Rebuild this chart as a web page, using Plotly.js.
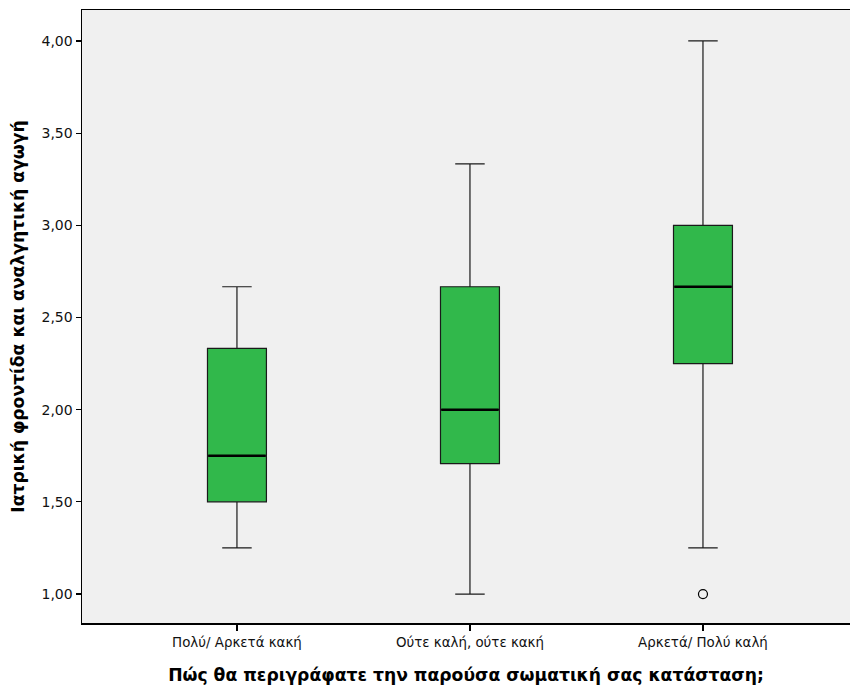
<!DOCTYPE html>
<html>
<head>
<meta charset="utf-8">
<script src="https://cdn.plot.ly/plotly-3.0.1.min.js"></script>
<style>html,body{margin:0;padding:0;background:#fff;}</style>
</head>
<body>
<div id="chart" style="width:850px;height:688px;"></div>
<script>
const categories = ["Πολύ/ Αρκετά κακή", "Ούτε καλή, ούτε κακή", "Αρκετά/ Πολύ καλή"];
const lowerWhisker = [1.25, 1.00, 1.25];
const q1Values = [1.50, 1.708, 2.25];
const medianValues = [1.75, 2.00, 2.667];
const q3Values = [2.333, 2.667, 3.00];
const upperWhisker = [2.667, 3.333, 4.00];
const outlierCategories = ["Αρκετά/ Πολύ καλή"];
const outlierValues = [1.00];
const yTickVals = [1.0, 1.5, 2.0, 2.5, 3.0, 3.5, 4.0];
const yTickText = ["1,00", "1,50", "2,00", "2,50", "3,00", "3,50", "4,00"];

const boxTrace = {
  type: "box",
  x: categories,
  q1: q1Values,
  median: medianValues,
  q3: q3Values,
  lowerfence: lowerWhisker,
  upperfence: upperWhisker,
  fillcolor: "#31B84B",
  line: {color: "#1a1a1a", width: 1.2},
  width: 0.253,
  whiskerwidth: 0.5,
  boxpoints: false,
  hoverinfo: "skip",
  showlegend: false
};
const medianTrace = {
  type: "box",
  x: categories,
  q1: medianValues,
  median: medianValues,
  q3: medianValues,
  lowerfence: medianValues,
  upperfence: medianValues,
  fillcolor: "rgba(0,0,0,0)",
  line: {color: "#000000", width: 2.6},
  width: 0.246,
  whiskerwidth: 0,
  boxpoints: false,
  hoverinfo: "skip",
  showlegend: false
};
const outlierTrace = {
  type: "scatter",
  mode: "markers",
  x: outlierCategories,
  y: outlierValues,
  marker: {symbol: "circle-open", size: 9, color: "#000000", line: {width: 1.2, color: "#000"}},
  hoverinfo: "skip",
  showlegend: false
};

const layout = {
  width: 850,
  height: 688,
  margin: {l: 82, r: 0, t: 10, b: 65},
  paper_bgcolor: "#ffffff",
  plot_bgcolor: "#F0F0F0",
  boxmode: "overlay",
  font: {family: "'DejaVu Sans', sans-serif", color: "#000"},
  xaxis: {
    type: "category",
    categoryorder: "array",
    categoryarray: categories,
    range: [-0.665, 2.631],
    showgrid: false,
    zeroline: false,
    showline: true,
    linecolor: "#000",
    linewidth: 1.5,
    mirror: true,
    ticks: "outside",
    ticklen: 6,
    tickwidth: 1.2,
    tickcolor: "#000",
    tickfont: {size: 13.4, color: "#111"},
    title: {text: "Πώς θα περιγράφατε την παρούσα σωματική σας κατάσταση;", font: {size: 17.2, color: "#000", weight: "bold"}, standoff: 20}
  },
  yaxis: {
    range: [0.843, 4.168],
    tickvals: yTickVals,
    ticktext: yTickText,
    showgrid: false,
    zeroline: false,
    showline: true,
    linecolor: "#000",
    linewidth: 1.5,
    ticks: "outside",
    ticklen: 5,
    tickwidth: 1.2,
    tickcolor: "#000",
    tickfont: {size: 14, color: "#111"},
    title: {text: "Ιατρική φροντίδα και αναλγητική αγωγή", font: {size: 17.2, color: "#000", weight: "bold"}, standoff: 12}
  }
};

Plotly.newPlot("chart", [boxTrace, medianTrace, outlierTrace], layout, {displayModeBar: false, staticPlot: true});
</script>
</body>
</html>
